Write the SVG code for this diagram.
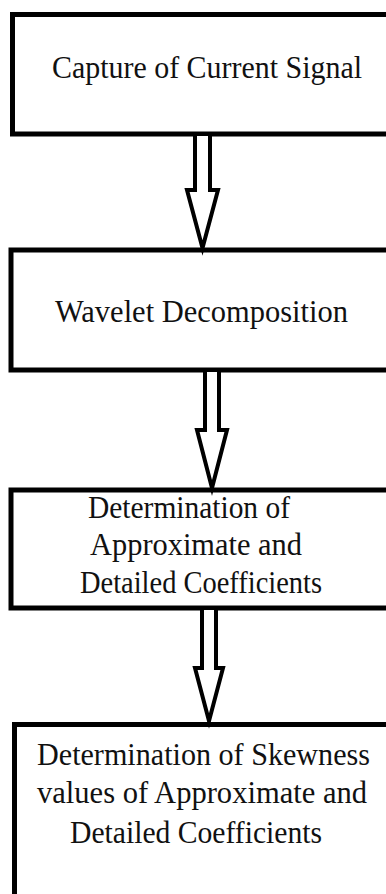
<svg xmlns="http://www.w3.org/2000/svg" width="386" height="894" viewBox="0 0 386 894">
<style>
.box{fill:#fff;stroke:#000;stroke-width:5}
.arr{fill:#fff;stroke:#000;stroke-width:4;stroke-linejoin:miter}
.t{font-family:"Liberation Serif","Times New Roman",serif;font-size:30.5px;fill:#111}
</style>
<rect width="386" height="894" fill="#fff"/>
<g id="node1">
<rect class="box" x="12.5" y="14.5" width="400" height="119.5"/>
<text class="t" x="52" y="78" textLength="310" lengthAdjust="spacingAndGlyphs">Capture of Current Signal</text>
</g>
<g id="node2">
<rect class="box" x="11" y="250" width="400" height="120"/>
<text class="t" x="55" y="322" textLength="293" lengthAdjust="spacingAndGlyphs">Wavelet Decomposition</text>
</g>
<g id="node3">
<rect class="box" x="11" y="490" width="400" height="118"/>
<text class="t" x="88" y="518" textLength="202" lengthAdjust="spacingAndGlyphs">Determination of</text>
<text class="t" x="90" y="555" textLength="212" lengthAdjust="spacingAndGlyphs">Approximate and</text>
<text class="t" x="80" y="593" textLength="242" lengthAdjust="spacingAndGlyphs">Detailed Coefficients</text>
</g>
<g id="node4">
<rect class="box" x="14.5" y="724.5" width="400" height="172"/>
<text class="t" x="37" y="765" textLength="333" lengthAdjust="spacingAndGlyphs">Determination of Skewness</text>
<text class="t" x="37" y="803" textLength="330" lengthAdjust="spacingAndGlyphs">values of Approximate and</text>
<text class="t" x="70" y="843" textLength="252" lengthAdjust="spacingAndGlyphs">Detailed Coefficients</text>
</g>
<g id="connectors">
<polygon class="arr" points="195,134 210,134 210,190 218,190 202.5,248 187,190 195,190"/>
<polygon class="arr" points="205,370 219,370 219,430 227,430 212,488 197,430 205,430"/>
<polygon class="arr" points="202,608 216,608 216,668 223,668 209,721 195,668 202,668"/>
</g>
</svg>
